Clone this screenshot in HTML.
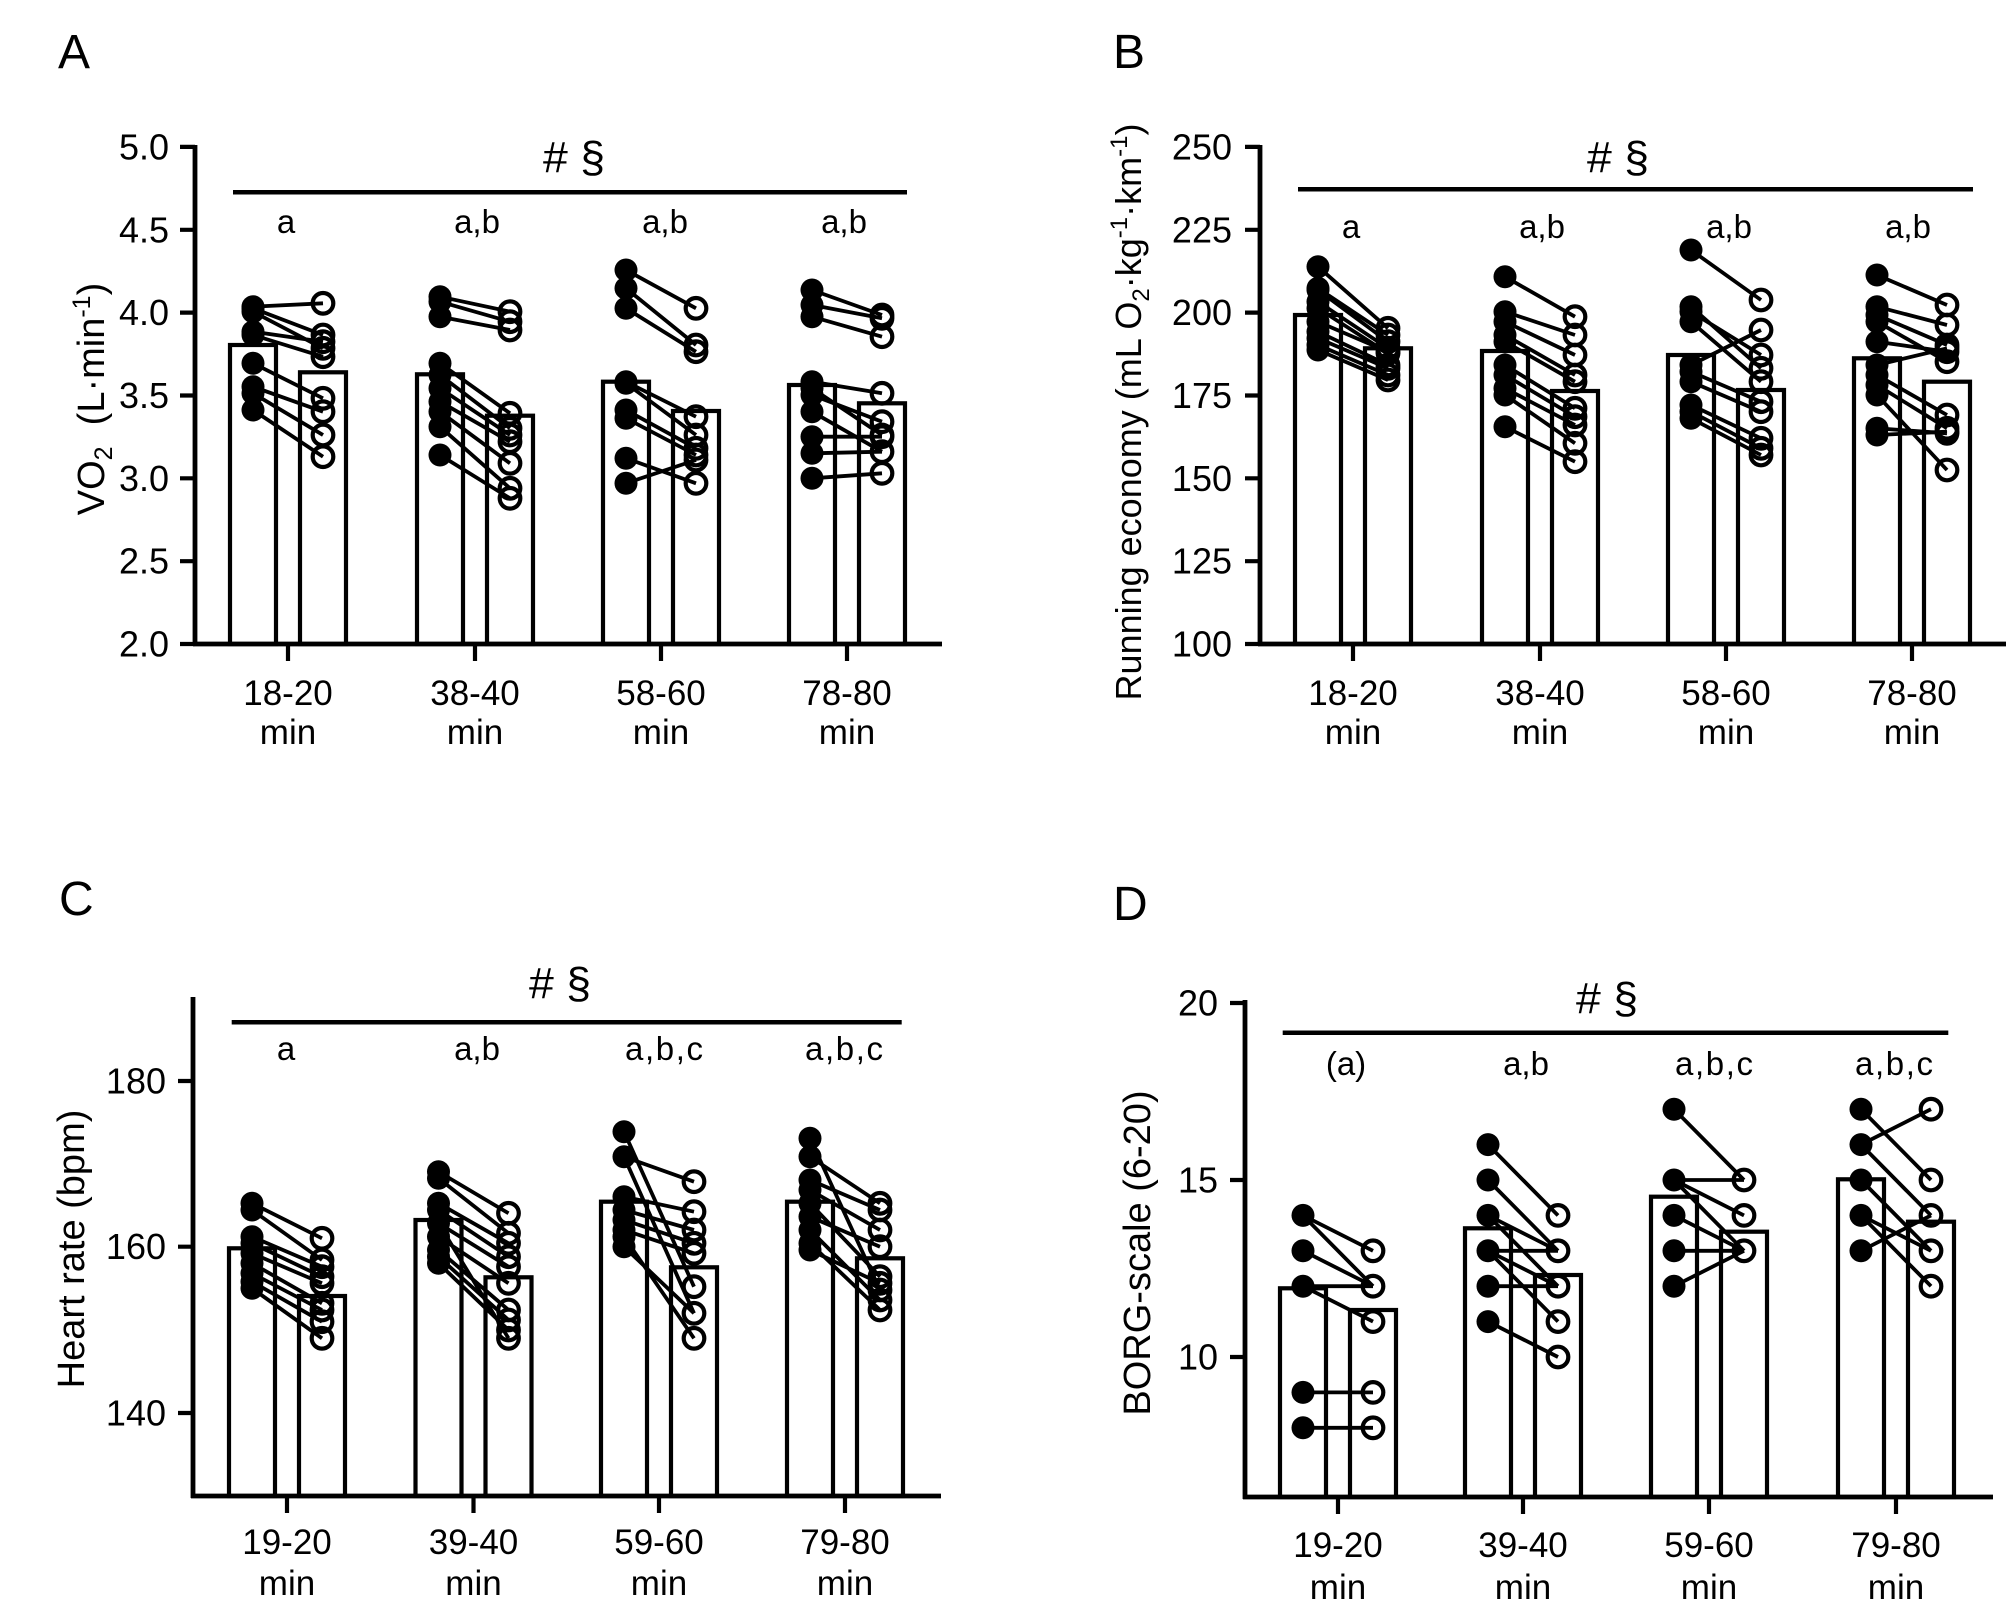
<!DOCTYPE html>
<html>
<head>
<meta charset="utf-8">
<style>
html,body{margin:0;padding:0;background:#fff;}
svg{display:block;}
text{font-family:"Liberation Sans",Arial,sans-serif;fill:#000;}
.bar{fill:#fff;stroke:#000;stroke-width:4.2;}
.ax{stroke:#000;stroke-width:4.8;fill:none;}
.tk{stroke:#000;stroke-width:4.2;fill:none;}
.sig{stroke:#000;stroke-width:4.5;fill:none;}
.ln{stroke:#000;stroke-width:3.8;fill:none;}
.f{fill:#000;}
.o{fill:none;stroke:#000;stroke-width:4.2;}
.tl{font-size:36px;text-anchor:end;}
.xl{font-size:35px;text-anchor:middle;}
.sl{font-size:33px;text-anchor:middle;}
.hs{font-size:44px;text-anchor:middle;}
.yl{font-size:38px;text-anchor:middle;}
.pl{font-size:48px;}
</style>
</head>
<body>
<svg width="2016" height="1622" viewBox="0 0 2016 1622" xmlns="http://www.w3.org/2000/svg">
<defs>
<circle id="fd" r="11.5"/>
</defs>
<rect x="0" y="0" width="2016" height="1622" fill="#fff"/>

<!-- ================= PANEL A ================= -->
<text class="pl" x="58" y="68">A</text>
<text class="yl" transform="translate(104,399) rotate(-90)">VO<tspan font-size="25" dy="8">2</tspan><tspan dy="-8">&#160; (L·min</tspan><tspan font-size="25" dy="-14">-1</tspan><tspan dy="14">)</tspan></text>
<rect class="bar" x="230" y="345" width="46" height="299"/>
<rect class="bar" x="300" y="372.3" width="46" height="271.7"/>
<rect class="bar" x="417" y="374.3" width="46" height="269.7"/>
<rect class="bar" x="487" y="415.7" width="46" height="228.3"/>
<rect class="bar" x="603" y="381.7" width="46" height="262.3"/>
<rect class="bar" x="673" y="411" width="46" height="233"/>
<rect class="bar" x="789" y="385" width="46" height="259"/>
<rect class="bar" x="859" y="403.3" width="46" height="240.7"/>
<path class="ax" d="M195 145 V646 M193 644 H942"/>
<path class="tk" d="M180 146.9 H195 M180 229.8 H195 M180 312.6 H195 M180 395.5 H195 M180 478.3 H195 M180 561.2 H195 M180 644 H195"/>
<path class="tk" d="M288 644 V661 M475 644 V661 M661 644 V661 M847 644 V661"/>
<text class="tl" x="169" y="159.5">5.0</text>
<text class="tl" x="169" y="242.3">4.5</text>
<text class="tl" x="169" y="325.1">4.0</text>
<text class="tl" x="169" y="408">3.5</text>
<text class="tl" x="169" y="490.8">3.0</text>
<text class="tl" x="169" y="573.7">2.5</text>
<text class="tl" x="169" y="656.5">2.0</text>
<text class="xl" x="288" y="705">18-20</text><text class="xl" x="288" y="744">min</text>
<text class="xl" x="475" y="705">38-40</text><text class="xl" x="475" y="744">min</text>
<text class="xl" x="661" y="705">58-60</text><text class="xl" x="661" y="744">min</text>
<text class="xl" x="847" y="705">78-80</text><text class="xl" x="847" y="744">min</text>
<path class="sig" d="M233 192.3 H907"/>
<text class="hs" x="574" y="172" textLength="62" lengthAdjust="spacingAndGlyphs"># §</text>
<text class="sl" x="286" y="233">a</text>
<text class="sl" x="477" y="233">a,b</text>
<text class="sl" x="665" y="233">a,b</text>
<text class="sl" x="844" y="233">a,b</text>
<path class="ln" d="M253 306.7 L323 303.3 M253 308.3 L323 335 M253 311.7 L323 348.3 M253 331.7 L323 341.7 M253 335 L323 356.7 M253 363.3 L323 398.3 M253 386.7 L323 411.7 M253 393.3 L323 435 M253 410 L323 456.7
M440 296.7 L510 311.7 M440 301.7 L510 321.7 M440 316.7 L510 330 M440 363.3 L510 413.3 M440 375 L510 428.3 M440 388.3 L510 435 M440 401.7 L510 441.7 M440 411.7 L510 463.3 M440 426.7 L510 488.3 M440 455 L510 498.3
M626 270 L696 308.3 M626 288.3 L696 345 M626 308.3 L696 351.7 M626 381.7 L696 416.7 M626 383.3 L696 435 M626 410 L696 448.3 M626 418.3 L696 455 M626 458.3 L696 483.3 M626 483.3 L696 460
M812 290 L882 315 M812 305 L882 318.3 M812 316.7 L882 336.7 M812 381.7 L882 393.3 M812 388.3 L882 435 M812 395 L882 421.7 M812 411.7 L882 451.7 M812 436.7 L882 436.7 M812 453.3 L882 451.7 M812 478.3 L882 473.3"/>
<g class="f">
<circle cx="253" cy="306.7" r="11.5"/><circle cx="253" cy="308.3" r="11.5"/><circle cx="253" cy="311.7" r="11.5"/><circle cx="253" cy="331.7" r="11.5"/><circle cx="253" cy="335" r="11.5"/><circle cx="253" cy="363.3" r="11.5"/><circle cx="253" cy="386.7" r="11.5"/><circle cx="253" cy="393.3" r="11.5"/><circle cx="253" cy="410" r="11.5"/>
<circle cx="440" cy="296.7" r="11.5"/><circle cx="440" cy="301.7" r="11.5"/><circle cx="440" cy="316.7" r="11.5"/><circle cx="440" cy="363.3" r="11.5"/><circle cx="440" cy="375" r="11.5"/><circle cx="440" cy="388.3" r="11.5"/><circle cx="440" cy="401.7" r="11.5"/><circle cx="440" cy="411.7" r="11.5"/><circle cx="440" cy="426.7" r="11.5"/><circle cx="440" cy="455" r="11.5"/>
<circle cx="626" cy="270" r="11.5"/><circle cx="626" cy="288.3" r="11.5"/><circle cx="626" cy="308.3" r="11.5"/><circle cx="626" cy="381.7" r="11.5"/><circle cx="626" cy="383.3" r="11.5"/><circle cx="626" cy="410" r="11.5"/><circle cx="626" cy="418.3" r="11.5"/><circle cx="626" cy="458.3" r="11.5"/><circle cx="626" cy="483.3" r="11.5"/>
<circle cx="812" cy="290" r="11.5"/><circle cx="812" cy="305" r="11.5"/><circle cx="812" cy="316.7" r="11.5"/><circle cx="812" cy="381.7" r="11.5"/><circle cx="812" cy="388.3" r="11.5"/><circle cx="812" cy="395" r="11.5"/><circle cx="812" cy="411.7" r="11.5"/><circle cx="812" cy="436.7" r="11.5"/><circle cx="812" cy="453.3" r="11.5"/><circle cx="812" cy="478.3" r="11.5"/>
</g>
<g class="o">
<circle cx="323" cy="303.3" r="10.3"/><circle cx="323" cy="335" r="10.3"/><circle cx="323" cy="348.3" r="10.3"/><circle cx="323" cy="341.7" r="10.3"/><circle cx="323" cy="356.7" r="10.3"/><circle cx="323" cy="398.3" r="10.3"/><circle cx="323" cy="411.7" r="10.3"/><circle cx="323" cy="435" r="10.3"/><circle cx="323" cy="456.7" r="10.3"/>
<circle cx="510" cy="311.7" r="10.3"/><circle cx="510" cy="321.7" r="10.3"/><circle cx="510" cy="330" r="10.3"/><circle cx="510" cy="413.3" r="10.3"/><circle cx="510" cy="428.3" r="10.3"/><circle cx="510" cy="435" r="10.3"/><circle cx="510" cy="441.7" r="10.3"/><circle cx="510" cy="463.3" r="10.3"/><circle cx="510" cy="488.3" r="10.3"/><circle cx="510" cy="498.3" r="10.3"/>
<circle cx="696" cy="308.3" r="10.3"/><circle cx="696" cy="345" r="10.3"/><circle cx="696" cy="351.7" r="10.3"/><circle cx="696" cy="416.7" r="10.3"/><circle cx="696" cy="435" r="10.3"/><circle cx="696" cy="448.3" r="10.3"/><circle cx="696" cy="455" r="10.3"/><circle cx="696" cy="483.3" r="10.3"/><circle cx="696" cy="460" r="10.3"/>
<circle cx="882" cy="315" r="10.3"/><circle cx="882" cy="318.3" r="10.3"/><circle cx="882" cy="336.7" r="10.3"/><circle cx="882" cy="393.3" r="10.3"/><circle cx="882" cy="435" r="10.3"/><circle cx="882" cy="421.7" r="10.3"/><circle cx="882" cy="451.7" r="10.3"/><circle cx="882" cy="436.7" r="10.3"/><circle cx="882" cy="473.3" r="10.3"/>
</g>

<!-- ================= PANEL B ================= -->
<text class="pl" x="1113" y="68">B</text>
<text class="yl" font-size="36" style="font-size:36px" transform="translate(1141,412) rotate(-90)">Running economy (mL O<tspan font-size="24" dy="8">2</tspan><tspan dy="-8">·kg</tspan><tspan font-size="24" dy="-14">-1</tspan><tspan dy="14">·km</tspan><tspan font-size="24" dy="-14">-1</tspan><tspan dy="14">)</tspan></text>
<rect class="bar" x="1295" y="315" width="46" height="329"/>
<rect class="bar" x="1365" y="348.3" width="46" height="295.7"/>
<rect class="bar" x="1482" y="351" width="46" height="293"/>
<rect class="bar" x="1552" y="391" width="46" height="253"/>
<rect class="bar" x="1668" y="355" width="46" height="289"/>
<rect class="bar" x="1738" y="390" width="46" height="254"/>
<rect class="bar" x="1854" y="358.3" width="46" height="285.7"/>
<rect class="bar" x="1924" y="381.7" width="46" height="262.3"/>
<path class="ax" d="M1260 145 V646 M1258 644 H2006"/>
<path class="tk" d="M1245 146.9 H1260 M1245 229.8 H1260 M1245 312.6 H1260 M1245 395.5 H1260 M1245 478.3 H1260 M1245 561.2 H1260 M1245 644 H1260"/>
<path class="tk" d="M1353 644 V661 M1540 644 V661 M1726 644 V661 M1912 644 V661"/>
<text class="tl" x="1232" y="159.5">250</text>
<text class="tl" x="1232" y="242.3">225</text>
<text class="tl" x="1232" y="325.1">200</text>
<text class="tl" x="1232" y="408">175</text>
<text class="tl" x="1232" y="490.8">150</text>
<text class="tl" x="1232" y="573.7">125</text>
<text class="tl" x="1232" y="656.5">100</text>
<text class="xl" x="1353" y="705">18-20</text><text class="xl" x="1353" y="744">min</text>
<text class="xl" x="1540" y="705">38-40</text><text class="xl" x="1540" y="744">min</text>
<text class="xl" x="1726" y="705">58-60</text><text class="xl" x="1726" y="744">min</text>
<text class="xl" x="1912" y="705">78-80</text><text class="xl" x="1912" y="744">min</text>
<path class="sig" d="M1298 189.3 H1973"/>
<text class="hs" x="1618" y="172" textLength="62" lengthAdjust="spacingAndGlyphs"># §</text>
<text class="sl" x="1351" y="238">a</text>
<text class="sl" x="1542" y="238">a,b</text>
<text class="sl" x="1729" y="238">a,b</text>
<text class="sl" x="1908" y="238">a,b</text>
<path class="ln" d="M1318 266.7 L1388 328.3 M1318 288.3 L1388 335 M1318 290 L1388 341.7 M1318 301.7 L1388 348.3 M1318 308.3 L1388 353.3 M1318 321.7 L1388 351.7 M1318 331.7 L1388 365 M1318 338.3 L1388 368.3 M1318 345 L1388 375 M1318 350 L1388 380
M1505 276.7 L1575 316.7 M1505 311.7 L1575 335 M1505 321.7 L1575 355 M1505 335 L1575 375 M1505 341.7 L1575 381.7 M1505 365 L1575 408.3 M1505 375 L1575 416.7 M1505 388.3 L1575 425 M1505 395 L1575 443.3 M1505 426.7 L1575 461.7
M1691 250 L1761 300 M1691 306.7 L1761 368.3 M1691 311.7 L1761 355 M1691 321.7 L1761 381.7 M1691 365 L1761 330 M1691 371.7 L1761 401.7 M1691 381.7 L1761 411.7 M1691 405 L1761 438.3 M1691 411.7 L1761 448.3 M1691 418.3 L1761 455
M1877 275 L1947 305 M1877 306.7 L1947 325 M1877 315 L1947 345 M1877 321.7 L1947 361.7 M1877 341.7 L1947 351.7 M1877 365 L1947 348.3 M1877 375 L1947 415 M1877 385 L1947 428.3 M1877 395 L1947 470 M1877 428.3 L1947 433.3 M1877 435 L1947 431.7"/>
<g class="f">
<circle cx="1318" cy="266.7" r="11.5"/><circle cx="1318" cy="288.3" r="11.5"/><circle cx="1318" cy="290" r="11.5"/><circle cx="1318" cy="301.7" r="11.5"/><circle cx="1318" cy="308.3" r="11.5"/><circle cx="1318" cy="321.7" r="11.5"/><circle cx="1318" cy="331.7" r="11.5"/><circle cx="1318" cy="338.3" r="11.5"/><circle cx="1318" cy="345" r="11.5"/><circle cx="1318" cy="350" r="11.5"/>
<circle cx="1505" cy="276.7" r="11.5"/><circle cx="1505" cy="311.7" r="11.5"/><circle cx="1505" cy="321.7" r="11.5"/><circle cx="1505" cy="335" r="11.5"/><circle cx="1505" cy="341.7" r="11.5"/><circle cx="1505" cy="365" r="11.5"/><circle cx="1505" cy="375" r="11.5"/><circle cx="1505" cy="388.3" r="11.5"/><circle cx="1505" cy="395" r="11.5"/><circle cx="1505" cy="426.7" r="11.5"/>
<circle cx="1691" cy="250" r="11.5"/><circle cx="1691" cy="306.7" r="11.5"/><circle cx="1691" cy="311.7" r="11.5"/><circle cx="1691" cy="321.7" r="11.5"/><circle cx="1691" cy="365" r="11.5"/><circle cx="1691" cy="371.7" r="11.5"/><circle cx="1691" cy="381.7" r="11.5"/><circle cx="1691" cy="405" r="11.5"/><circle cx="1691" cy="411.7" r="11.5"/><circle cx="1691" cy="418.3" r="11.5"/>
<circle cx="1877" cy="275" r="11.5"/><circle cx="1877" cy="306.7" r="11.5"/><circle cx="1877" cy="315" r="11.5"/><circle cx="1877" cy="321.7" r="11.5"/><circle cx="1877" cy="341.7" r="11.5"/><circle cx="1877" cy="365" r="11.5"/><circle cx="1877" cy="375" r="11.5"/><circle cx="1877" cy="385" r="11.5"/><circle cx="1877" cy="395" r="11.5"/><circle cx="1877" cy="428.3" r="11.5"/><circle cx="1877" cy="435" r="11.5"/>
</g>
<g class="o">
<circle cx="1388" cy="328.3" r="10.3"/><circle cx="1388" cy="335" r="10.3"/><circle cx="1388" cy="341.7" r="10.3"/><circle cx="1388" cy="348.3" r="10.3"/><circle cx="1388" cy="353.3" r="10.3"/><circle cx="1388" cy="351.7" r="10.3"/><circle cx="1388" cy="365" r="10.3"/><circle cx="1388" cy="368.3" r="10.3"/><circle cx="1388" cy="375" r="10.3"/><circle cx="1388" cy="380" r="10.3"/>
<circle cx="1575" cy="316.7" r="10.3"/><circle cx="1575" cy="335" r="10.3"/><circle cx="1575" cy="355" r="10.3"/><circle cx="1575" cy="375" r="10.3"/><circle cx="1575" cy="381.7" r="10.3"/><circle cx="1575" cy="408.3" r="10.3"/><circle cx="1575" cy="416.7" r="10.3"/><circle cx="1575" cy="425" r="10.3"/><circle cx="1575" cy="443.3" r="10.3"/><circle cx="1575" cy="461.7" r="10.3"/>
<circle cx="1761" cy="300" r="10.3"/><circle cx="1761" cy="368.3" r="10.3"/><circle cx="1761" cy="355" r="10.3"/><circle cx="1761" cy="381.7" r="10.3"/><circle cx="1761" cy="330" r="10.3"/><circle cx="1761" cy="401.7" r="10.3"/><circle cx="1761" cy="411.7" r="10.3"/><circle cx="1761" cy="438.3" r="10.3"/><circle cx="1761" cy="448.3" r="10.3"/><circle cx="1761" cy="455" r="10.3"/>
<circle cx="1947" cy="305" r="10.3"/><circle cx="1947" cy="325" r="10.3"/><circle cx="1947" cy="345" r="10.3"/><circle cx="1947" cy="361.7" r="10.3"/><circle cx="1947" cy="351.7" r="10.3"/><circle cx="1947" cy="348.3" r="10.3"/><circle cx="1947" cy="415" r="10.3"/><circle cx="1947" cy="428.3" r="10.3"/><circle cx="1947" cy="470" r="10.3"/><circle cx="1947" cy="433.3" r="10.3"/><circle cx="1947" cy="431.7" r="10.3"/>
</g>

<!-- ================= PANEL C ================= -->
<text class="pl" x="59" y="915">C</text>
<text class="yl" transform="translate(84,1249) rotate(-90)">Heart rate (bpm)</text>
<rect class="bar" x="229" y="1248.3" width="46" height="247.7"/>
<rect class="bar" x="299" y="1296" width="46" height="200"/>
<rect class="bar" x="415.5" y="1220" width="46" height="276"/>
<rect class="bar" x="485.5" y="1277.3" width="46" height="218.7"/>
<rect class="bar" x="601" y="1201.7" width="46" height="294.3"/>
<rect class="bar" x="671" y="1267.3" width="46" height="228.7"/>
<rect class="bar" x="787" y="1201.7" width="46" height="294.3"/>
<rect class="bar" x="857" y="1258.3" width="46" height="237.7"/>
<path class="ax" d="M193 997 V1498 M191 1496 H941"/>
<path class="tk" d="M178 1081 H193 M178 1246.7 H193 M178 1413 H193"/>
<path class="tk" d="M287 1496 V1513 M473.5 1496 V1513 M659 1496 V1513 M845 1496 V1513"/>
<text class="tl" x="166" y="1093.5">180</text>
<text class="tl" x="166" y="1259.2">160</text>
<text class="tl" x="166" y="1425.5">140</text>
<text class="xl" x="287" y="1554">19-20</text><text class="xl" x="287" y="1595">min</text>
<text class="xl" x="473.5" y="1554">39-40</text><text class="xl" x="473.5" y="1595">min</text>
<text class="xl" x="659" y="1554">59-60</text><text class="xl" x="659" y="1595">min</text>
<text class="xl" x="845" y="1554">79-80</text><text class="xl" x="845" y="1595">min</text>
<path class="sig" d="M231.7 1022.3 H901.7"/>
<text class="hs" x="560" y="998" textLength="62" lengthAdjust="spacingAndGlyphs"># §</text>
<text class="sl" x="286" y="1060">a</text>
<text class="sl" x="477" y="1060">a,b</text>
<text class="sl" x="664" y="1060" textLength="78" lengthAdjust="spacing">a,b,c</text>
<text class="sl" x="844" y="1060" textLength="78" lengthAdjust="spacing">a,b,c</text>
<path class="ln" d="M252 1203.3 L322 1238.3 M252 1210 L322 1260 M252 1236.7 L322 1266.7 M252 1243.3 L322 1276.7 M252 1253.3 L322 1283.3 M252 1263.3 L322 1303.3 M252 1273.3 L322 1310 M252 1281.7 L322 1321.7 M252 1288.3 L322 1338.3
M438.5 1171.7 L508.5 1213.3 M438.5 1178.3 L508.5 1233.3 M438.5 1203.3 L508.5 1243.3 M438.5 1210 L508.5 1256.7 M438.5 1223.3 L508.5 1266.7 M438.5 1236.7 L508.5 1283.3 M438.5 1250 L508.5 1310 M438.5 1256.7 L508.5 1320 M438.5 1263.3 L508.5 1330 M438.5 1223.3 L508.5 1338.3
M624 1131.7 L694 1286.7 M624 1156.7 L694 1181.7 M624 1156.7 L694 1313.3 M624 1196.7 L694 1211.7 M624 1210 L694 1230 M624 1220 L694 1243.3 M624 1230 L694 1253.3 M624 1236.7 L694 1338.3 M624 1246.7 L694 1313.3
M810 1138.3 L880 1290 M810 1156.7 L880 1203.3 M810 1180 L880 1210 M810 1190 L880 1230 M810 1203.3 L880 1276.7 M810 1216.7 L880 1246.7 M810 1230 L880 1300 M810 1243.3 L880 1310 M810 1250 L880 1283.3"/>
<g class="f">
<circle cx="252" cy="1203.3" r="11.5"/><circle cx="252" cy="1210" r="11.5"/><circle cx="252" cy="1236.7" r="11.5"/><circle cx="252" cy="1243.3" r="11.5"/><circle cx="252" cy="1253.3" r="11.5"/><circle cx="252" cy="1263.3" r="11.5"/><circle cx="252" cy="1273.3" r="11.5"/><circle cx="252" cy="1281.7" r="11.5"/><circle cx="252" cy="1288.3" r="11.5"/>
<circle cx="438.5" cy="1171.7" r="11.5"/><circle cx="438.5" cy="1178.3" r="11.5"/><circle cx="438.5" cy="1203.3" r="11.5"/><circle cx="438.5" cy="1210" r="11.5"/><circle cx="438.5" cy="1223.3" r="11.5"/><circle cx="438.5" cy="1236.7" r="11.5"/><circle cx="438.5" cy="1250" r="11.5"/><circle cx="438.5" cy="1256.7" r="11.5"/><circle cx="438.5" cy="1263.3" r="11.5"/>
<circle cx="624" cy="1131.7" r="11.5"/><circle cx="624" cy="1156.7" r="11.5"/><circle cx="624" cy="1196.7" r="11.5"/><circle cx="624" cy="1210" r="11.5"/><circle cx="624" cy="1220" r="11.5"/><circle cx="624" cy="1230" r="11.5"/><circle cx="624" cy="1236.7" r="11.5"/><circle cx="624" cy="1246.7" r="11.5"/>
<circle cx="810" cy="1138.3" r="11.5"/><circle cx="810" cy="1156.7" r="11.5"/><circle cx="810" cy="1180" r="11.5"/><circle cx="810" cy="1190" r="11.5"/><circle cx="810" cy="1203.3" r="11.5"/><circle cx="810" cy="1216.7" r="11.5"/><circle cx="810" cy="1230" r="11.5"/><circle cx="810" cy="1243.3" r="11.5"/><circle cx="810" cy="1250" r="11.5"/>
</g>
<g class="o">
<circle cx="322" cy="1238.3" r="10.3"/><circle cx="322" cy="1260" r="10.3"/><circle cx="322" cy="1266.7" r="10.3"/><circle cx="322" cy="1276.7" r="10.3"/><circle cx="322" cy="1283.3" r="10.3"/><circle cx="322" cy="1303.3" r="10.3"/><circle cx="322" cy="1310" r="10.3"/><circle cx="322" cy="1321.7" r="10.3"/><circle cx="322" cy="1338.3" r="10.3"/>
<circle cx="508.5" cy="1213.3" r="10.3"/><circle cx="508.5" cy="1233.3" r="10.3"/><circle cx="508.5" cy="1243.3" r="10.3"/><circle cx="508.5" cy="1256.7" r="10.3"/><circle cx="508.5" cy="1266.7" r="10.3"/><circle cx="508.5" cy="1283.3" r="10.3"/><circle cx="508.5" cy="1310" r="10.3"/><circle cx="508.5" cy="1320" r="10.3"/><circle cx="508.5" cy="1330" r="10.3"/><circle cx="508.5" cy="1338.3" r="10.3"/>
<circle cx="694" cy="1286.7" r="10.3"/><circle cx="694" cy="1181.7" r="10.3"/><circle cx="694" cy="1313.3" r="10.3"/><circle cx="694" cy="1211.7" r="10.3"/><circle cx="694" cy="1230" r="10.3"/><circle cx="694" cy="1243.3" r="10.3"/><circle cx="694" cy="1253.3" r="10.3"/><circle cx="694" cy="1338.3" r="10.3"/>
<circle cx="880" cy="1290" r="10.3"/><circle cx="880" cy="1203.3" r="10.3"/><circle cx="880" cy="1210" r="10.3"/><circle cx="880" cy="1230" r="10.3"/><circle cx="880" cy="1276.7" r="10.3"/><circle cx="880" cy="1246.7" r="10.3"/><circle cx="880" cy="1300" r="10.3"/><circle cx="880" cy="1310" r="10.3"/><circle cx="880" cy="1283.3" r="10.3"/>
</g>

<!-- ================= PANEL D ================= -->
<text class="pl" x="1113" y="920">D</text>
<text class="yl" transform="translate(1150,1253) rotate(-90)">BORG-scale (6-20)</text>
<rect class="bar" x="1280" y="1288.3" width="46" height="208.7"/>
<rect class="bar" x="1350" y="1310" width="46" height="187"/>
<rect class="bar" x="1465" y="1228.3" width="46" height="268.7"/>
<rect class="bar" x="1535" y="1275" width="46" height="222"/>
<rect class="bar" x="1651" y="1196.7" width="46" height="300.3"/>
<rect class="bar" x="1721" y="1231.7" width="46" height="265.3"/>
<rect class="bar" x="1838" y="1179.3" width="46" height="317.7"/>
<rect class="bar" x="1908" y="1221.7" width="46" height="275.3"/>
<path class="ax" d="M1245 1000 V1499 M1243 1497 H1993"/>
<path class="tk" d="M1230 1003 H1245 M1230 1180 H1245 M1230 1357 H1245"/>
<path class="tk" d="M1338 1497 V1514 M1523 1497 V1514 M1709 1497 V1514 M1896 1497 V1514"/>
<text class="tl" x="1218" y="1015.5">20</text>
<text class="tl" x="1218" y="1192.5">15</text>
<text class="tl" x="1218" y="1369.5">10</text>
<text class="xl" x="1338" y="1557">19-20</text><text class="xl" x="1338" y="1599">min</text>
<text class="xl" x="1523" y="1557">39-40</text><text class="xl" x="1523" y="1599">min</text>
<text class="xl" x="1709" y="1557">59-60</text><text class="xl" x="1709" y="1599">min</text>
<text class="xl" x="1896" y="1557">79-80</text><text class="xl" x="1896" y="1599">min</text>
<path class="sig" d="M1282.7 1032.7 H1948.3"/>
<text class="hs" x="1607" y="1013" textLength="62" lengthAdjust="spacingAndGlyphs"># §</text>
<text class="sl" x="1346" y="1075">(a)</text>
<text class="sl" x="1526" y="1075">a,b</text>
<text class="sl" x="1714" y="1075" textLength="78" lengthAdjust="spacing">a,b,c</text>
<text class="sl" x="1894" y="1075" textLength="78" lengthAdjust="spacing">a,b,c</text>
<path class="ln" d="M1303 1215.4 L1373 1250.8 M1303 1215.4 L1373 1286.2 M1303 1250.8 L1373 1286.2 M1303 1286.2 L1373 1286.2 M1303 1286.2 L1373 1321.6 M1303 1392.4 L1373 1392.4 M1303 1427.8 L1373 1427.8
M1488 1144.6 L1558 1215.4 M1488 1180 L1558 1250.8 M1488 1215.4 L1558 1250.8 M1488 1215.4 L1558 1286.2 M1488 1250.8 L1558 1250.8 M1488 1250.8 L1558 1286.2 M1488 1250.8 L1558 1321.6 M1488 1286.2 L1558 1286.2 M1488 1321.6 L1558 1357
M1674 1109.2 L1744 1180 M1674 1180 L1744 1180 M1674 1180 L1744 1215.4 M1674 1180 L1744 1250.8 M1674 1215.4 L1744 1250.8 M1674 1250.8 L1744 1250.8 M1674 1286.2 L1744 1250.8
M1861 1109.2 L1931 1180 M1861 1144.6 L1931 1109.2 M1861 1144.6 L1931 1215.4 M1861 1180 L1931 1250.8 M1861 1215.4 L1931 1250.8 M1861 1215.4 L1931 1286.2 M1861 1250.8 L1931 1215.4"/>
<g class="f">
<circle cx="1303" cy="1215.4" r="11.5"/><circle cx="1303" cy="1250.8" r="11.5"/><circle cx="1303" cy="1286.2" r="11.5"/><circle cx="1303" cy="1392.4" r="11.5"/><circle cx="1303" cy="1427.8" r="11.5"/>
<circle cx="1488" cy="1144.6" r="11.5"/><circle cx="1488" cy="1180" r="11.5"/><circle cx="1488" cy="1215.4" r="11.5"/><circle cx="1488" cy="1250.8" r="11.5"/><circle cx="1488" cy="1286.2" r="11.5"/><circle cx="1488" cy="1321.6" r="11.5"/>
<circle cx="1674" cy="1109.2" r="11.5"/><circle cx="1674" cy="1180" r="11.5"/><circle cx="1674" cy="1215.4" r="11.5"/><circle cx="1674" cy="1250.8" r="11.5"/><circle cx="1674" cy="1286.2" r="11.5"/>
<circle cx="1861" cy="1109.2" r="11.5"/><circle cx="1861" cy="1144.6" r="11.5"/><circle cx="1861" cy="1180" r="11.5"/><circle cx="1861" cy="1215.4" r="11.5"/><circle cx="1861" cy="1250.8" r="11.5"/>
</g>
<g class="o">
<circle cx="1373" cy="1250.8" r="10.3"/><circle cx="1373" cy="1286.2" r="10.3"/><circle cx="1373" cy="1321.6" r="10.3"/><circle cx="1373" cy="1392.4" r="10.3"/><circle cx="1373" cy="1427.8" r="10.3"/>
<circle cx="1558" cy="1215.4" r="10.3"/><circle cx="1558" cy="1250.8" r="10.3"/><circle cx="1558" cy="1286.2" r="10.3"/><circle cx="1558" cy="1321.6" r="10.3"/><circle cx="1558" cy="1357" r="10.3"/>
<circle cx="1744" cy="1180" r="10.3"/><circle cx="1744" cy="1215.4" r="10.3"/><circle cx="1744" cy="1250.8" r="10.3"/>
<circle cx="1931" cy="1109.2" r="10.3"/><circle cx="1931" cy="1180" r="10.3"/><circle cx="1931" cy="1215.4" r="10.3"/><circle cx="1931" cy="1250.8" r="10.3"/><circle cx="1931" cy="1286.2" r="10.3"/>
</g>
</svg>
</body>
</html>
